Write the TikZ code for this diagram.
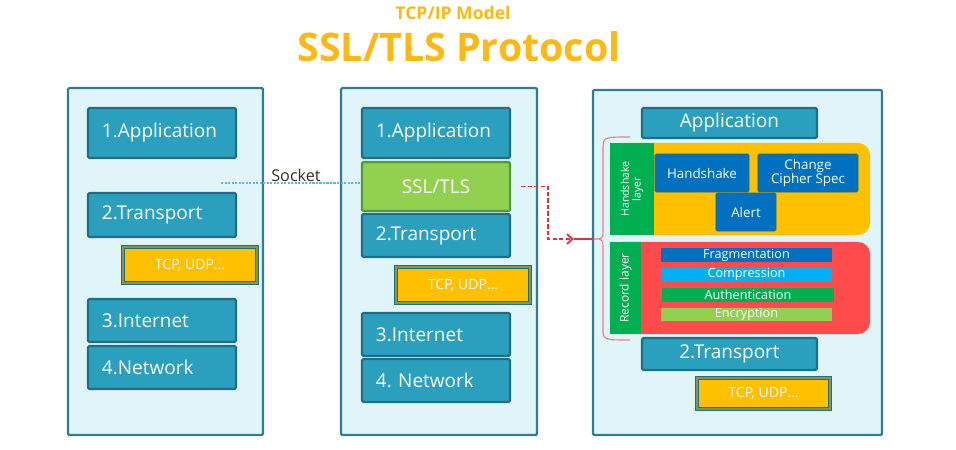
\documentclass[tikz,border=0pt]{standalone}
\usepackage{fontspec}
\setmainfont{Open Sans}
\usepackage{xcolor}
\usepackage{tikz}
\usetikzlibrary{arrows.meta}
\definecolor{TLSPanelFill}{HTML}{E0F5FA}
\definecolor{TLSPanelEdge}{HTML}{2F7D91}
\definecolor{TLSLayerFill}{HTML}{2BA0BE}
\definecolor{TLSLayerEdge}{HTML}{1E6F85}
\definecolor{TLSGreen}{HTML}{92D050}
\definecolor{TLSGreenEdge}{HTML}{4F9A3B}
\definecolor{TLSGold}{HTML}{FFC000}
\definecolor{TLSGoldEdge}{HTML}{8A9450}
\definecolor{TLSRed}{HTML}{FF4B4B}
\definecolor{TLSStrip}{HTML}{00B050}
\definecolor{TLSBlue}{HTML}{0070C0}
\definecolor{TLSSky}{HTML}{00B0F0}
\definecolor{TLSTitle}{HTML}{FDB913}
\definecolor{TLSArrow}{HTML}{E0323C}
\definecolor{TLSBrace}{HTML}{E8808A}
\definecolor{TLSSocket}{HTML}{5FB8CF}
\definecolor{TLSInk}{HTML}{3B2B22}

\begin{document}
\frenchspacing
\begin{tikzpicture}[x=0.025cm,y=-0.025cm,
  panel/.style={draw=TLSPanelEdge,fill=TLSPanelFill,line width=1.6pt,rounded corners=1pt,inner sep=0pt},
  layer/.style={draw=TLSLayerEdge,fill=TLSLayerFill,line width=1.6pt,rounded corners=1pt,text=white,
    font=\fontsize{13.5}{15}\selectfont,inner sep=0pt,inner xsep=0.35cm,text width=3.0cm,align=left,minimum width=3.7cm},
  sslbox/.style={layer,draw=TLSGreenEdge,fill=TLSGreen,align=center},
  tcpbox/.style={draw=TLSLayerEdge,line width=0.5pt,double=TLSGoldEdge,double distance=1.4pt,fill=TLSGold,text=white,
    font=\fontsize{10}{11}\selectfont,inner sep=0pt,minimum width=3.35cm,minimum height=0.9cm},
  wide/.style={layer,text width=4.375cm,inner xsep=0pt,minimum width=4.375cm,align=center},
  band/.style={inner sep=0pt,minimum width=6.5cm,minimum height=2.3cm,rounded corners=0.3cm},
  strip/.style={fill=TLSStrip,inner sep=0pt,minimum height=2.3cm},
  striptext/.style={rotate=90,text=white,font=\fontsize{7.5}{8.5}\selectfont,align=center},
  msg/.style={fill=TLSBlue,draw=TLSLayerEdge,line width=0.6pt,rounded corners=1pt,text=white,inner sep=0pt,
    minimum height=0.95cm,font=\fontsize{9.5}{10.5}\selectfont,align=center},
  bar/.style={inner sep=0pt,minimum width=4.275cm,minimum height=0.34cm,text=white,font=\fontsize{9}{10}\selectfont}]
\path[use as bounding box] (0,0) rectangle (956,449);
\node[text=TLSTitle,font=\bfseries\fontsize{12.5}{13}\selectfont] (subtitle) at (453,13) {TCP/IP Model};
\node[text=TLSTitle,font=\bfseries\fontsize{28}{32}\selectfont] (title) at (459,47) {SSL/TLS Protocol};

\node[panel,minimum width=4.875cm,minimum height=8.675cm] (lpanel) at (165.5,261.5) {};
\node[layer,minimum height=1.25cm] (lapp) at (162,133) {1.Application};
\node[layer,minimum height=1.1cm] (ltrans) at (162,215) {2.Transport};
\node[tcpbox] (ltcp) at (190,265) {TCP, UDP\dots};
\node[layer,minimum height=1.075cm] (linet) at (162,320.5) {3.Internet};
\node[layer,minimum height=1.075cm] (lnet) at (162,367.5) {4.Network};

\node[panel,minimum width=4.9cm,minimum height=8.675cm] (mpanel) at (439,261.5) {};
\node[layer,minimum height=1.25cm] (mapp) at (436,133) {1.Application};
\node[sslbox,minimum height=1.225cm] (ssl) at (436,186.5) {SSL/TLS};
\node[layer,minimum height=1.075cm] (mtrans) at (436,235.5) {2.Transport};
\node[tcpbox] (mtcp) at (463,285) {TCP, UDP\dots};
\node[layer,minimum height=1.075cm] (minet) at (436,334.5) {3.Internet};
\node[layer,minimum height=1.075cm] (mnet) at (436,380.5) {4. Network};

\node[panel,minimum width=7.225cm,minimum height=8.625cm] (rpanel) at (737.5,262.5) {};
\node[wide,minimum height=0.75cm] (rapp) at (729.5,123) {Application};
\node[band,fill=TLSGold] (hsband) at (740,189) {};
\node[strip,minimum width=1.1cm] (hsstrip) at (632,189) {};
\node[striptext] (hslabel) at (hsstrip) {Handshake\\layer};
\node[msg,minimum width=2.35cm] (handshake) at (702,173) {Handshake};
\node[msg,minimum width=2.5cm] (ccs) at (808,173) {Change\\Cipher Spec};
\node[msg,minimum width=1.5cm] (alert) at (746,212) {Alert};
\node[band,fill=TLSRed] (recband) at (740,288) {};
\node[strip,minimum width=0.775cm] (recstrip) at (625.5,288) {};
\node[striptext,font=\fontsize{8.5}{9.5}\selectfont] (reclabel) at (recstrip) {Record layer};
\node[bar,fill=TLSBlue] (frag) at (746.5,255) {Fragmentation};
\node[bar,fill=TLSSky] (comp) at (746.5,274.5) {Compression};
\node[bar,fill=TLSStrip] (auth) at (748,295) {Authentication};
\node[bar,fill=TLSGreen] (enc) at (746.5,314.5) {Encryption};
\node[wide,minimum height=0.8cm] (rtrans) at (729.5,354) {2.Transport};
\node[tcpbox,minimum width=3.325cm,minimum height=0.775cm] (rtcp) at (763.5,393.5) {TCP, UDP\dots};

\coordinate (sockend) at (221,183);
\draw[TLSSocket,dash pattern=on 1.5pt off 1pt,line width=0.8pt] (sockend) -- (sockend -| ssl.west);
\node[text=TLSInk,font=\fontsize{11.5}{12}\selectfont] (socket) at (296,175) {Socket};

\coordinate (tip) at (594,239);
\draw[TLSBrace,line width=0.8pt] (630,137) .. controls (603,137) .. (603,150) -- (603,228)
  .. controls (603,239) .. (tip) .. controls (603,239) .. (603,250) -- (603,328) .. controls (603,340) .. (630,340);
\draw[TLSArrow,line width=0.9pt] ([xshift=-0.5cm]tip) -- (tip);
\draw[TLSArrow,dash pattern=on 3pt off 1.6pt,line width=1.3pt,-{Straight Barb[length=4pt,width=7pt]}]
  ([xshift=0.25cm]ssl.east) -| ([xshift=-1.15cm]tip) -- ([xshift=-0.5cm]tip);
\end{tikzpicture}
\end{document}
